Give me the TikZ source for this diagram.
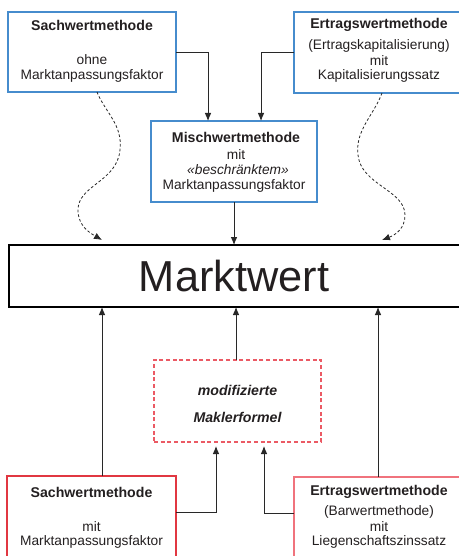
\documentclass[tikz,border=0pt]{standalone}
\usepackage{fontspec}
\setmainfont{Liberation Sans}
\usetikzlibrary{arrows.meta,calc}
\newlength\px
\setlength\px{0.75pt}
\definecolor{txt}{RGB}{35,31,32}
\definecolor{bblue}{RGB}{70,140,205}
\definecolor{rred}{RGB}{225,55,65}
\definecolor{rpink}{RGB}{240,115,125}
\definecolor{dred}{RGB}{235,90,100}
\definecolor{lgray}{RGB}{40,40,40}
\tikzset{
  box/.style={draw, inner sep=0pt, outer sep=0pt},
  bluebox/.style={box, draw=bblue, line width=0.8pt},
  redbox/.style={box, draw=rred, line width=0.9pt},
  pinkbox/.style={box, draw=rpink, line width=0.9pt},
  dashbox/.style={box, draw=dred, line width=0.8pt, dash pattern=on 3pt off 2pt},
  mwbox/.style={box, draw=black, line width=1.8pt},
  lbl/.style={text=txt, font=\fontsize{10.3pt}{12pt}\selectfont, inner sep=0pt},
  ttl/.style={text=txt, font=\fontsize{10.6pt}{12pt}\selectfont\bfseries, inner sep=0pt},
  arr/.style={draw=lgray, line width=0.7pt, -{Latex[length=6pt,width=5pt]}},
  darr/.style={draw=lgray, line width=0.6pt, dash pattern=on 2pt off 1.6pt, -{Latex[length=6pt,width=5pt]}}
}
\begin{document}
\begin{tikzpicture}[x=0.75pt,y=-0.75pt]
\useasboundingbox (0,0) rectangle (459,556);
\clip (0,0) rectangle (459,556);
% boxes
\node[bluebox, minimum width=168\px, minimum height=80\px] (tl) at (92,52) {};
\node[bluebox, minimum width=170\px, minimum height=81\px] (tr) at (379,52.5) {};
\node[bluebox, minimum width=166\px, minimum height=81\px] (mi) at (234,161.5) {};
\node[mwbox, minimum width=452\px, minimum height=62\px] (mw) at (235,276) {};
\node[dashbox, minimum width=167\px, minimum height=82\px] (mk) at (237.5,401) {};
\node[redbox, minimum width=169\px, minimum height=124\px] (bl) at (91.5,538) {};
\node[pinkbox, minimum width=170\px, minimum height=124\px] (br) at (379,539) {};
% texts
\node[ttl] (t1) at (92,25) {Sachwertmethode};
\node[lbl] (t2) at (92,60) {ohne};
\node[lbl] (t3) at (92,75.5) {Marktanpassungsfaktor};
\node[ttl] (t4) at (379,25) {Ertragswertmethode};
\node[lbl] (t5) at (379,45.5) {(Ertragskapitalisierung)};
\node[lbl] (t6) at (379,61) {mit};
\node[lbl] (t7) at (379,76) {Kapitalisierungssatz};
\node[ttl] (t8) at (236,137) {Mischwertmethode};
\node[lbl] (t9) at (236,155) {mit};
\node[lbl] (t10) at (238,170) {\itshape «beschränktem»};
\node[lbl] (t11) at (234,186) {Marktanpassungsfaktor};
\node[text=txt, font=\fontsize{32.5pt}{34pt}\selectfont, inner sep=0pt] (t12) at (234,276) {Marktwert};
\node[ttl] (t13) at (237.5,390) {\itshape modifizierte};
\node[ttl] (t14) at (237.5,417) {\itshape Maklerformel};
\node[ttl] (t15) at (91.5,492) {Sachwertmethode};
\node[lbl] (t16) at (91.5,527) {mit};
\node[lbl] (t17) at (91.5,542) {Marktanpassungsfaktor};
\node[ttl] (t18) at (379,492) {Ertragswertmethode};
\node[lbl] (t19) at (379,512) {(Barwertmethode)};
\node[lbl] (t20) at (379,527) {mit};
\node[lbl] (t21) at (379,542) {Liegenschaftszinssatz};
% solid arrows top
\draw[arr] (tl.east) -| ($(mi.north)+(-26,0)$);
\draw[arr] (tr.west) -| ($(mi.north)+(27,0)$);
\draw[arr] (mi.south) -- (mi.south |- mw.north);
% dashed curves
\draw[darr] ($(tl.south)+(5,0)$) .. controls (105,112) and (123,125) .. (120,150)
   .. controls (117,182) and (78,185) .. (78,210)
   .. controls (78,226) and (90,233) .. ($(mw.north west)+(93,-5)$);
\draw[darr] ($(tr.south)+(3,0)$) .. controls (374,115) and (355,130) .. (358,155)
   .. controls (361,185) and (405,190) .. (405,215)
   .. controls (405,229) and (395,235) .. ($(mw.north west)+(373,-5)$);
% bottom arrows
\draw[arr] ($(bl.north)+(10.5,0)$) coordinate (a1) -- (a1 |- mw.south);
\draw[arr] ($(mk.north)+(-1.5,0)$) coordinate (a2) -- (a2 |- mw.south);
\draw[arr] ($(br.north)+(-1,0)$) coordinate (a3) -- (a3 |- mw.south);
\draw[arr] ($(bl.north east)+(0,36)$) -| ($(mk.south)+(-21.5,4)$);
\draw[arr] ($(br.north west)+(0,36)$) -| ($(mk.south)+(26.5,4)$);
\end{tikzpicture}
\end{document}
